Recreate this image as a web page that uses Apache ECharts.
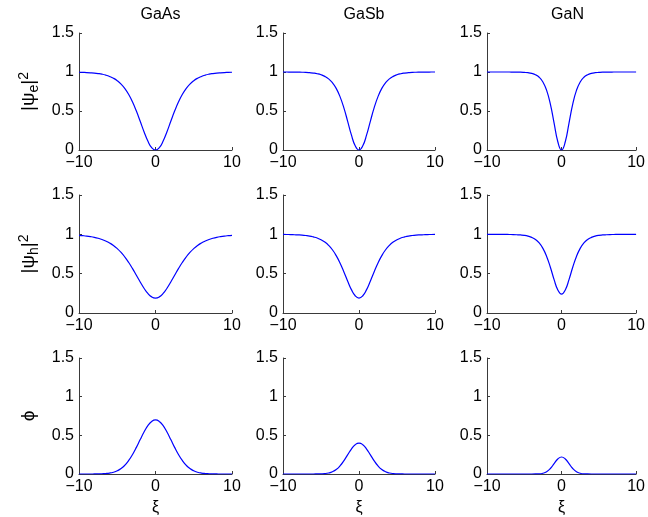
<!DOCTYPE html>
<html>
<head>
<meta charset="utf-8">
<script src="https://cdn.jsdelivr.net/npm/echarts@6/dist/echarts.min.js"></script>
<style>
  html, body { margin: 0; padding: 0; background: #fff; }
  #chart { width: 648px; height: 517px; }
</style>
</head>
<body>
<div id="chart"></div>
<script>
// posiciones xi (eje horizontal)
var xi = [-10, -9.5, -9, -8.5, -8, -7.5, -7, -6.5, -6, -5.5, -5, -4.5, -4, -3.5, -3, -2.5, -2, -1.5, -1, -0.5,
  0, 0.5, 1, 1.5, 2, 2.5, 3, 3.5, 4, 4.5, 5, 5.5, 6, 6.5, 7, 7.5, 8, 8.5, 9, 9.5, 10];

var materials = ['GaAs', 'GaSb', 'GaN'];
var yNames = ['{n||ψ}{sub|e}{n||}{sup|2}', '{n||ψ}{sub|h}{n||}{sup|2}', '{n|\u03d5}'];

// |psi_e|^2
var psiE_GaAs = [0.997, 0.995, 0.993, 0.990, 0.986, 0.980, 0.972, 0.960, 0.943, 0.920, 0.888, 0.845, 0.787, 0.711, 0.615, 0.499, 0.368, 0.234, 0.115, 0.030,
  0, 0.030, 0.115, 0.234, 0.368, 0.499, 0.615, 0.711, 0.787, 0.845, 0.888, 0.920, 0.943, 0.960, 0.972, 0.980, 0.986, 0.990, 0.993, 0.995, 0.997];
var psiE_GaSb = [1.0, 1.0, 0.999, 0.999, 0.998, 0.997, 0.995, 0.991, 0.986, 0.978, 0.965, 0.944, 0.912, 0.863, 0.790, 0.684, 0.543, 0.371, 0.193, 0.054,
  0, 0.054, 0.193, 0.371, 0.543, 0.684, 0.790, 0.863, 0.912, 0.944, 0.965, 0.978, 0.986, 0.991, 0.995, 0.997, 0.998, 0.999, 0.999, 1.0, 1.0];
var psiE_GaN = [1.0, 1.0, 1.0, 1.0, 1.0, 1.0, 1.0, 0.999, 0.999, 0.998, 0.995, 0.991, 0.982, 0.965, 0.933, 0.872, 0.765, 0.589, 0.346, 0.106,
  0, 0.106, 0.346, 0.589, 0.765, 0.872, 0.933, 0.965, 0.982, 0.991, 0.995, 0.998, 0.999, 0.999, 1.0, 1.0, 1.0, 1.0, 1.0, 1.0, 1.0];

// |psi_h|^2
var psiH_GaAs = [0.987, 0.983, 0.978, 0.971, 0.962, 0.950, 0.935, 0.915, 0.890, 0.859, 0.819, 0.770, 0.711, 0.642, 0.564, 0.480, 0.394, 0.315, 0.249, 0.205,
  0.19, 0.205, 0.249, 0.315, 0.394, 0.480, 0.564, 0.642, 0.711, 0.770, 0.819, 0.859, 0.890, 0.915, 0.935, 0.950, 0.962, 0.971, 0.978, 0.983, 0.987];
var psiH_GaSb = [0.999, 0.998, 0.997, 0.995, 0.993, 0.990, 0.985, 0.978, 0.967, 0.953, 0.932, 0.902, 0.860, 0.804, 0.729, 0.636, 0.525, 0.407, 0.297, 0.219,
  0.19, 0.219, 0.297, 0.407, 0.525, 0.636, 0.729, 0.804, 0.860, 0.902, 0.932, 0.953, 0.967, 0.978, 0.985, 0.990, 0.993, 0.995, 0.997, 0.998, 0.999];
var psiH_GaN = [1.0, 1.0, 1.0, 1.0, 1.0, 0.999, 0.998, 0.997, 0.995, 0.992, 0.987, 0.977, 0.961, 0.934, 0.890, 0.821, 0.719, 0.581, 0.425, 0.293,
  0.24, 0.293, 0.425, 0.581, 0.719, 0.821, 0.890, 0.934, 0.961, 0.977, 0.987, 0.992, 0.995, 0.997, 0.998, 0.999, 1.0, 1.0, 1.0, 1.0, 1.0];

// phi
var phi_GaAs = [0, 0, 0, 0, 0.0005, 0.001, 0.003, 0.006, 0.012, 0.023, 0.041, 0.070, 0.114, 0.175, 0.252, 0.344, 0.445, 0.542, 0.625, 0.680,
  0.70, 0.680, 0.625, 0.542, 0.445, 0.344, 0.252, 0.175, 0.114, 0.070, 0.041, 0.023, 0.012, 0.006, 0.003, 0.001, 0.0005, 0, 0, 0, 0];
var phi_GaSb = [0, 0, 0, 0, 0, 0, 0, 0, 0, 0.001, 0.002, 0.005, 0.013, 0.029, 0.058, 0.105, 0.170, 0.247, 0.323, 0.379,
  0.40, 0.379, 0.323, 0.247, 0.170, 0.105, 0.058, 0.029, 0.013, 0.005, 0.002, 0.001, 0, 0, 0, 0, 0, 0, 0, 0, 0];
var phi_GaN = [0, 0, 0, 0, 0, 0, 0, 0, 0, 0, 0, 0, 0, 0.0005, 0.002, 0.010, 0.030, 0.071, 0.133, 0.194,
  0.22, 0.194, 0.133, 0.071, 0.030, 0.010, 0.002, 0.0005, 0, 0, 0, 0, 0, 0, 0, 0, 0, 0, 0, 0, 0];

var rows = [
  [psiE_GaAs, psiE_GaSb, psiE_GaN],
  [psiH_GaAs, psiH_GaSb, psiH_GaN],
  [phi_GaAs, phi_GaSb, phi_GaN]
];

var colLeft = [79, 283, 487];
var colWidth = [153, 152, 151];
var rowTop = [33, 195, 358];
var rowHeight = [117, 118, 117];

var fontFam = '"Liberation Sans", Arial, Helvetica, sans-serif';
var axisColor = '#3a3a3a';

// estilos para sub/superindices del nombre del eje y
var richStyle = {
  n: { fontFamily: fontFam, fontSize: 19, color: '#000', lineHeight: 24, verticalAlign: 'middle' },
  sub: { fontFamily: fontFam, fontSize: 14, color: '#000', lineHeight: 14, verticalAlign: 'bottom' },
  sup: { fontFamily: fontFam, fontSize: 14, color: '#000', lineHeight: 14, verticalAlign: 'top' }
};

function pairs(vals) {
  return xi.map(function (x, i) { return [x, vals[i]]; });
}

var grids = [], xAxes = [], yAxes = [], series = [];
rows.forEach(function (row, r) {
  row.forEach(function (vals, c) {
    var idx = r * 3 + c;
    grids.push({ left: colLeft[c], top: rowTop[r], width: colWidth[c], height: rowHeight[r] });
    xAxes.push({
      gridIndex: idx, type: 'value', min: -10, max: 10, interval: 10,
      name: r === 2 ? 'ξ' : '', nameLocation: 'middle', nameGap: 26,
      nameTextStyle: { fontFamily: fontFam, fontSize: 16, color: '#000' },
      axisLine: { onZero: false, lineStyle: { color: axisColor, width: 1 } },
      axisTick: { inside: true, length: 3, lineStyle: { color: axisColor } },
      splitLine: { show: false },
      axisLabel: {
        margin: 5, fontFamily: fontFam, fontSize: 16, color: '#000',
        formatter: function (v) { return v < 0 ? '\u2212' + Math.abs(v) : String(v); }
      }
    });
    yAxes.push({
      gridIndex: idx, type: 'value', min: 0, max: 1.5, interval: 0.5,
      name: c === 0 ? yNames[r] : '', nameLocation: 'middle', nameGap: 38,
      nameTextStyle: { rich: richStyle },
      axisLine: { show: true, onZero: false, lineStyle: { color: axisColor, width: 1 } },
      axisTick: { show: true, inside: true, length: 3, lineStyle: { color: axisColor } },
      splitLine: { show: false },
      axisLabel: { margin: 5, fontFamily: fontFam, fontSize: 16, color: '#000' }
    });
    series.push({
      type: 'line', xAxisIndex: idx, yAxisIndex: idx,
      data: pairs(vals), showSymbol: false, smooth: 0.5,
      lineStyle: { color: '#0000ff', width: 1.2 }, itemStyle: { color: '#0000ff' },
      z: 3
    });
  });
});

var titles = materials.map(function (m, c) {
  return {
    text: m, left: colLeft[c] + colWidth[c] / 2, top: 2, textAlign: 'center',
    textStyle: { fontFamily: fontFam, fontSize: 16, fontWeight: 'normal', color: '#000' }
  };
});

var chart = echarts.init(document.getElementById('chart'));
chart.setOption({
  animation: false,
  backgroundColor: '#fff',
  title: titles,
  grid: grids,
  xAxis: xAxes,
  yAxis: yAxes,
  series: series
});
</script>
</body>
</html>
